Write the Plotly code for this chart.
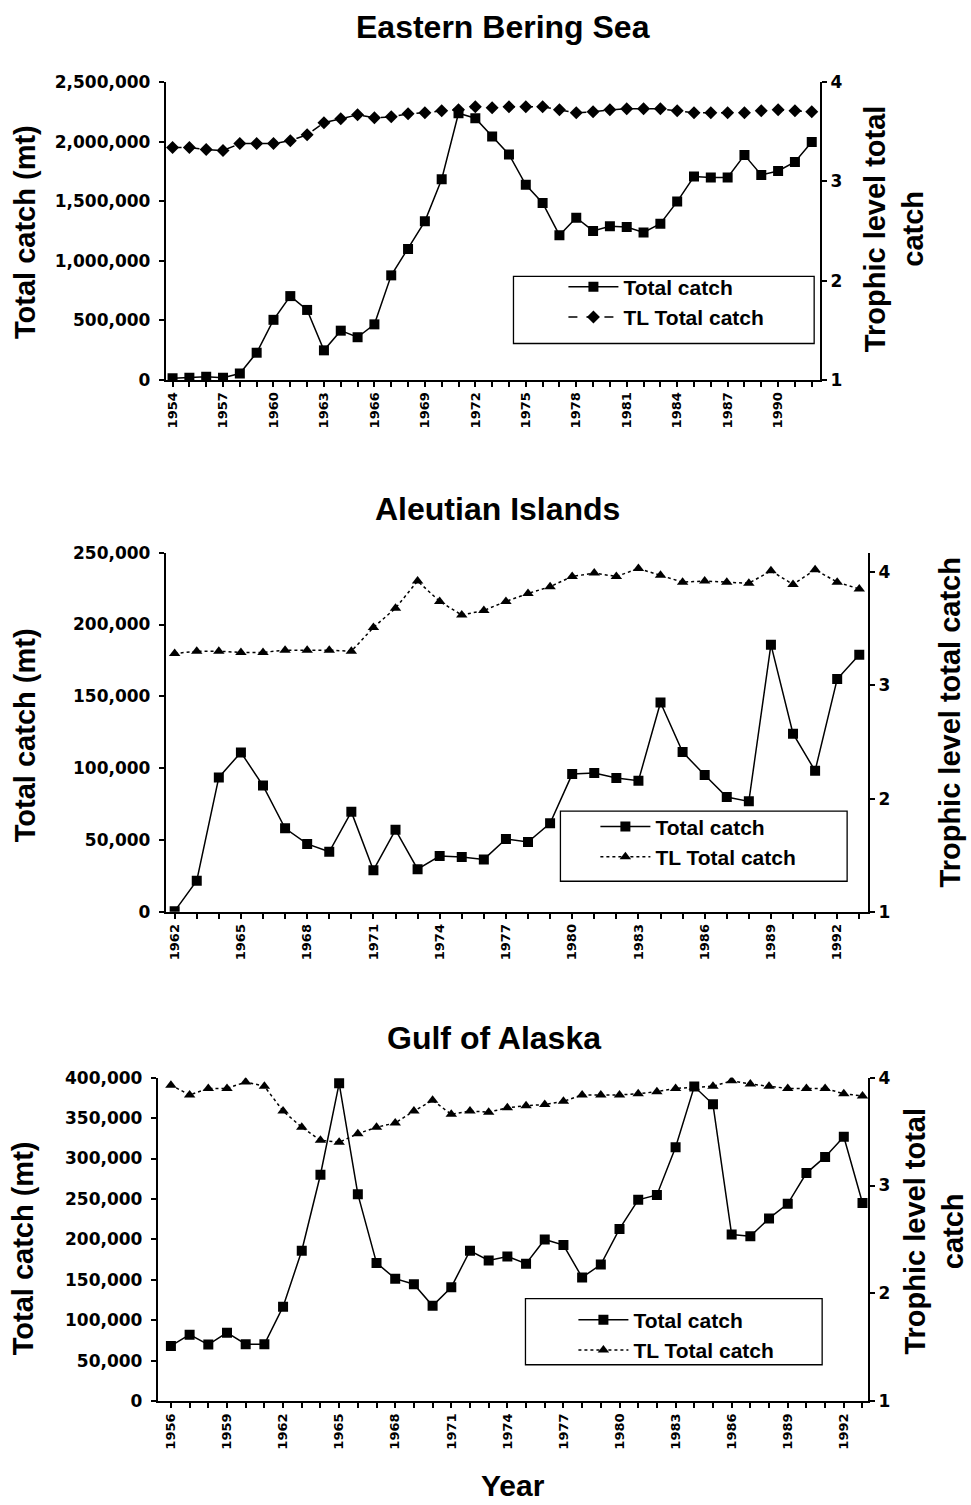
import plotly.graph_objects as go

# ---------------- data ----------------
ebs_years = list(range(1954, 1993))
ebs_catch = [14000, 19000, 28000, 19000, 55000, 229000, 505000, 704000, 588000, 249000,
             414000, 359000, 467000, 878000, 1099000, 1331000, 1685000, 2238000, 2196000, 2044000,
             1892000, 1638000, 1486000, 1215000, 1362000, 1251000, 1290000, 1284000, 1238000, 1312000,
             1497000, 1707000, 1699000, 1699000, 1887000, 1721000, 1754000, 1829000, 1997000]
ebs_tl = [3.34, 3.34, 3.32, 3.31, 3.38, 3.38, 3.38, 3.41, 3.47, 3.59,
          3.63, 3.67, 3.64, 3.65, 3.68, 3.69, 3.71, 3.72, 3.75, 3.74,
          3.75, 3.75, 3.75, 3.72, 3.69, 3.70, 3.72, 3.73, 3.73, 3.73,
          3.71, 3.69, 3.69, 3.69, 3.69, 3.71, 3.72, 3.71, 3.70]
ebs_ticklabels = ["1954", "1957", "1960", "1963", "1966", "1969", "1972",
                  "1975", "1978", "1981", "1984", "1987", "1990"]

ai_years = list(range(1962, 1994))
ai_catch = [500, 21700, 93600, 111000, 87900, 58200, 47300, 41800, 69600, 29000,
            57100, 29700, 38800, 38100, 36500, 50700, 48600, 61600, 95900, 96600,
            93200, 91300, 145700, 111200, 95200, 79900, 76900, 186000, 124000, 98200,
            162000, 179000]
ai_tl = [3.28, 3.30, 3.30, 3.29, 3.29, 3.31, 3.31, 3.31, 3.30, 3.51,
         3.68, 3.92, 3.74, 3.62, 3.66, 3.74, 3.81, 3.87, 3.96, 3.99,
         3.96, 4.03, 3.97, 3.91, 3.92, 3.91, 3.90, 4.01, 3.89, 4.02,
         3.91, 3.85]
ai_ticklabels = ["1962", "1965", "1968", "1971", "1974", "1977",
                 "1980", "1983", "1986", "1989", "1992"]

goa_years = list(range(1956, 1994))
goa_catch = [68400, 82300, 70100, 84700, 70500, 70500, 116900, 186000, 280000, 393000,
             256000, 171000, 151500, 144600, 118000, 141000, 186000, 174000, 179000, 170000,
             200000, 193000, 153000, 169000, 213000, 249000, 255000, 314000, 389000, 367000,
             206000, 204000, 226000, 244000, 282000, 302000, 327000, 245000]
goa_tl = [3.93, 3.84, 3.90, 3.90, 3.96, 3.92, 3.69, 3.54, 3.42, 3.40,
          3.48, 3.54, 3.58, 3.69, 3.79, 3.66, 3.69, 3.68, 3.72, 3.74,
          3.75, 3.78, 3.84, 3.84, 3.84, 3.85, 3.87, 3.90, 3.91, 3.92,
          3.97, 3.94, 3.92, 3.90, 3.90, 3.90, 3.85, 3.83]
goa_ticklabels = ["1956", "1959", "1962", "1965", "1968", "1971", "1974",
                  "1977", "1980", "1983", "1986", "1989", "1992"]

panel_titles = ["Eastern Bering Sea", "Aleutian Islands", "Gulf of Alaska"]
series_names = ["Total catch", "TL Total catch"]

# ---------------- figure ----------------
W, H = 971, 1505
FONT = "Liberation Sans, Arial, sans-serif"
TICKFONT = "DejaVu Sans, Liberation Sans, sans-serif"


def px_x(p):
    return p / W


def px_y(p):
    return 1 - p / H


fig = go.Figure()

panels = [
    dict(years=ebs_years, catch=ebs_catch, tl=ebs_tl, labels=ebs_ticklabels,
         x="x", y="y", y2="y2", legend="legend", tlsym="diamond", tldash="dash"),
    dict(years=ai_years, catch=ai_catch, tl=ai_tl, labels=ai_ticklabels,
         x="x2", y="y3", y2="y4", legend="legend2", tlsym="triangle-up", tldash="dot"),
    dict(years=goa_years, catch=goa_catch, tl=goa_tl, labels=goa_ticklabels,
         x="x3", y="y5", y2="y6", legend="legend3", tlsym="triangle-up", tldash="dot"),
]

for p in panels:
    fig.add_trace(go.Scatter(
        x=p["years"], y=p["catch"], name=series_names[0], mode="lines+markers",
        line=dict(color="black", width=1.5),
        marker=dict(symbol="square", size=10, color="black"),
        xaxis=p["x"], yaxis=p["y"], legend=p["legend"]))
    fig.add_trace(go.Scatter(
        x=p["years"], y=p["tl"], name=series_names[1], mode="lines+markers",
        line=dict(color="black", width=1.5, dash=p["tldash"]),
        marker=dict(symbol=p["tlsym"], size=10, color="black"),
        xaxis=p["x"], yaxis=p["y2"], legend=p["legend"]))

tickfont_y = dict(family=TICKFONT, size=17, color="black", weight="bold")
tickfont_x = dict(family=TICKFONT, size=13, color="black", weight="bold")


def xaxis_cfg(years, labels, dom, rng, anchor):
    return dict(
        domain=dom, range=rng, anchor=anchor, tickmode="array", tickvals=years,
        ticktext=[str(y) if str(y) in labels else "" for y in years],
        tickangle=-90, tickfont=tickfont_x, ticks="outside", ticklen=5,
        tickwidth=1.5, tickcolor="black", showline=True, linecolor="black",
        linewidth=2, showgrid=False, zeroline=False)


def yaxis_left(dom, anchor, rng, dtick):
    return dict(
        domain=dom, anchor=anchor, range=rng, dtick=dtick, tickformat=",d",
        tickfont=tickfont_y, ticks="outside", ticklen=5, tickwidth=1.5,
        ticklabelstandoff=5,
        tickcolor="black", showline=True, linecolor="black", linewidth=2,
        showgrid=False, zeroline=False)


def yaxis_right(overlay, anchor, rng):
    return dict(
        overlaying=overlay, anchor=anchor, side="right", range=rng,
        tickvals=[1, 2, 3, 4], tickfont=tickfont_y,
        ticks="outside", ticklen=5, tickwidth=1.5, tickcolor="black",
        showline=True, linecolor="black", linewidth=2, showgrid=False, zeroline=False)


xd1 = [px_x(165), px_x(820)]
yd1 = [px_y(375), px_y(73)]
xd2 = [px_x(165), px_x(868)]
yd2 = [px_y(914), px_y(550)]
xd3 = [px_x(157), px_x(868)]
yd3 = [px_y(1410), px_y(1082)]

legend_common = dict(
    bgcolor="rgba(0,0,0,0)", borderwidth=0,
    font=dict(family=FONT, size=21, color="black", weight="bold"),
    xanchor="left", yanchor="top", itemwidth=50, tracegroupgap=0)

fig.update_layout(
    width=W, height=H, margin=dict(l=0, r=0, t=0, b=0),
    paper_bgcolor="white", plot_bgcolor="white",
    showlegend=True,
    xaxis=xaxis_cfg(ebs_years, ebs_ticklabels, xd1, [1953.6, 1992.5], "y"),
    yaxis=yaxis_left(yd1, "x", [0, 2500000], 500000),
    yaxis2=yaxis_right("y", "x", [1, 4]),
    xaxis2=xaxis_cfg(ai_years, ai_ticklabels, xd2, [1961.6, 1993.4], "y3"),
    yaxis3=yaxis_left(yd2, "x2", [0, 250000], 50000),
    yaxis4=yaxis_right("y3", "x2", [1, 4.17]),
    xaxis3=xaxis_cfg(goa_years, goa_ticklabels, xd3, [1955.3, 1993.3], "y5"),
    yaxis5=yaxis_left(yd3, "x3", [0, 400000], 50000),
    yaxis6=yaxis_right("y5", "x3", [1, 4]),
    legend=dict(legend_common, x=px_x(563), y=px_y(260)),
    legend2=dict(legend_common, x=px_x(595), y=px_y(807)),
    legend3=dict(legend_common, x=px_x(573), y=px_y(1307)),
)

# legend frames
for x0, y0, x1, y1 in [(513, 270, 814, 338), (560, 812, 847, 883), (525, 1306, 822, 1373)]:
    fig.add_shape(type="rect", xref="paper", yref="paper",
                  x0=px_x(x0), x1=px_x(x1), y0=px_y(y1), y1=px_y(y0),
                  line=dict(color="black", width=1.3), layer="above")

title_font = dict(family=FONT, size=32, color="black", weight="bold")
axis_title_font = dict(family=FONT, size=29, color="black", weight="bold")

annots = [
    (panel_titles[0], 503, 17),
    (panel_titles[1], 497, 506),
    (panel_titles[2], 494, 1042),
]
for t, xp, yp in annots:
    fig.add_annotation(xref="paper", yref="paper", x=px_x(xp), y=px_y(yp), text=t,
                       showarrow=False, font=title_font, xanchor="center", yanchor="middle")

side_titles = [
    ("Total catch (mt)", 24, 225),
    ("Total catch (mt)", 24, 735),
    ("Total catch (mt)", 22, 1255),
    ("Trophic level total<br>catch", 894, 222),
    ("Trophic level total catch", 950, 722),
    ("Trophic level total<br>catch", 934, 1238),
]
for t, xp, yp in side_titles:
    fig.add_annotation(xref="paper", yref="paper", x=px_x(xp), y=px_y(yp), text=t,
                       showarrow=False, font=axis_title_font, textangle=-90,
                       xanchor="center", yanchor="middle")

fig.add_annotation(xref="paper", yref="paper", x=px_x(513), y=px_y(1495), text="Year",
                   showarrow=False, font=dict(family=FONT, size=30, color="black", weight="bold"),
                   xanchor="center", yanchor="middle")

fig.write_html("out.html", config={"displayModeBar": False},
               post_script="document.body.style.margin='0';document.body.style.padding='0';")
